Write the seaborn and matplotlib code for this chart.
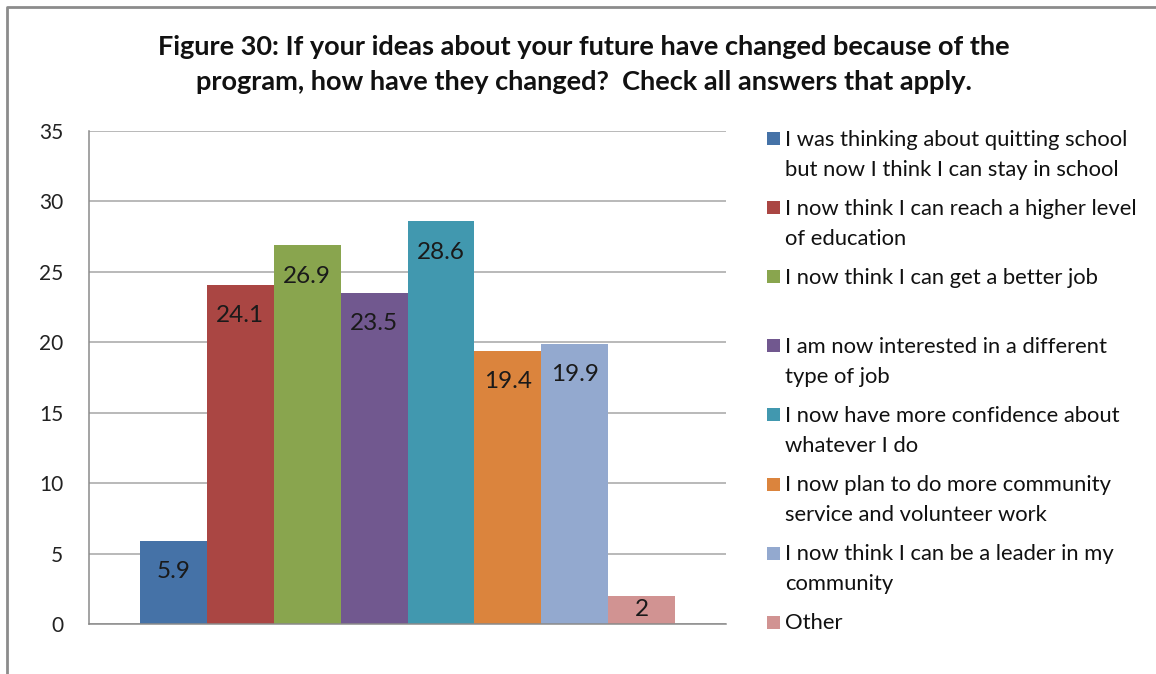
import pandas as pd
import seaborn as sns
import matplotlib.pyplot as plt
from matplotlib.patches import Rectangle
from matplotlib.lines import Line2D

# Survey responses (percent)
responses = [
    "I was thinking about quitting school\nbut now I think I can stay in school",
    "I now think I can reach a higher level\nof education",
    "I now think I can get a better job",
    "I am now interested in a different\ntype of job",
    "I now have more confidence about\nwhatever I do",
    "I now plan to do more community\nservice and volunteer work",
    "I now think I can be a leader in my\ncommunity",
    "Other",
]
values = [5.9, 24.1, 26.9, 23.5, 28.6, 19.4, 19.9, 2]
value_labels = ["5.9", "24.1", "26.9", "23.5", "28.6", "19.4", "19.9", "2"]
colors = ["#4572A7", "#AA4643", "#89A54E", "#71588F",
          "#4198AF", "#DB843D", "#93A9CF", "#D19392"]
y_ticks = [0, 5, 10, 15, 20, 25, 30, 35]

title = ("Figure 30: If your ideas about your future have changed because of the\n"
         "program, how have they changed?  Check all answers that apply.")

sns.set_style("white")
plt.rcParams["font.family"] = ["Lato", "DejaVu Sans"]

df = pd.DataFrame({"group": ["all"] * len(values), "response": responses, "value": values})

W, H = 1156, 674
fig = plt.figure(figsize=(W / 100, H / 100), dpi=100)
ax = fig.add_axes([89 / W, 1 - 624 / H, (726 - 89) / W, (624 - 131) / H])

sns.barplot(data=df, x="group", y="value", hue="response", hue_order=responses,
            palette=colors, width=0.84, dodge=True, legend=False,
            linewidth=0, saturation=1, ax=ax)

ax.set_xlim(-0.5, 0.5)
ax.set_ylim(0, 35)
ax.set_yticks(y_ticks)
ax.set_yticklabels([str(t) for t in y_ticks], fontsize=15, color="#222222")
ax.set_xticks([-0.5, 0.5])
ax.set_xticklabels(["", ""])
ax.set_xlabel("")
ax.set_ylabel("")
ax.grid(axis="y", color="#a6a6a6", linewidth=1.1)
ax.set_axisbelow(True)
for s in ["top", "right"]:
    ax.spines[s].set_visible(False)
for s in ["left", "bottom"]:
    ax.spines[s].set_color("#8a8a8a")
    ax.spines[s].set_linewidth(1.1)
ax.tick_params(axis="y", length=6.5, color="#8a8a8a", width=1.1, pad=12)
ax.tick_params(axis="x", length=6.5, color="#8a8a8a", width=1.1)

# data labels inside bar tops
px_per_unit = (624 - 131) / 35
for bar, lab in zip(ax.patches, value_labels):
    v = bar.get_height()
    y = max(v - 31 / px_per_unit, v / 2)
    ax.text(bar.get_x() + bar.get_width() / 2, y, lab, ha="center", va="center",
            fontsize=17.5, color="#1a1a1a")

# title
fig.text(583.5 / W, 1 - 35 / H, title, ha="center", va="top", fontsize=19.5,
         fontweight="bold", linespacing=1.55, color="#111111")

# legend
for i, (lab, col) in enumerate(zip(responses, colors)):
    yc = 138.5 + 69.1 * i
    fig.add_artist(Rectangle((767 / W, 1 - (yc + 6.5) / H), 13 / W, 13 / H,
                             transform=fig.transFigure, facecolor=col, edgecolor="none"))
    fig.text(785 / W, 1 - (yc - 9) / H, lab, ha="left", va="top", fontsize=15.8,
             linespacing=1.65, color="#111111")

# chart border
fig.add_artist(Line2D([7 / W, 7 / W, 1], [0, 1 - 7 / H, 1 - 7 / H],
                      transform=fig.transFigure, color="#8c8c8c", linewidth=2))

fig.savefig("out.png", dpi=100)
